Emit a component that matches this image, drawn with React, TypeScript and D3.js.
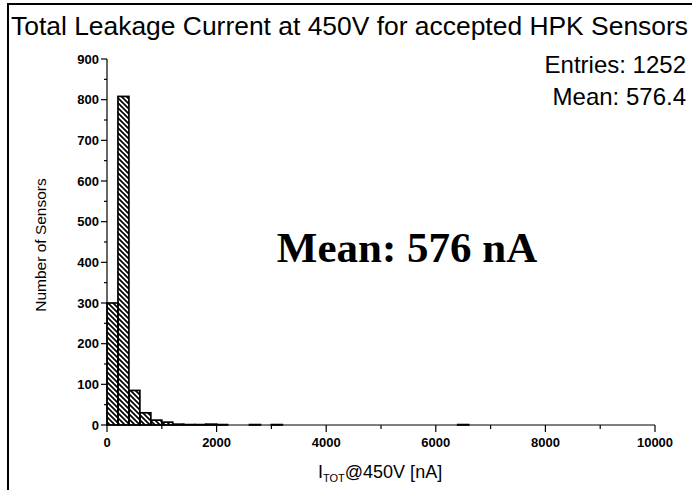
import React from 'react';
import * as d3 from 'd3';

// histogram bins (lower edge, nA) and counts
const binLo = [0, 200, 400, 600, 800, 1000, 1200, 1400, 1600, 1800, 2000, 2600, 3000, 6400];
const counts = [300, 808, 85, 30, 12, 7, 2, 1, 1, 2, 1, 1, 1, 1];
const binWidth = 200;

const xTicks = [0, 2000, 4000, 6000, 8000, 10000];
const xMinor = [1000, 3000, 5000, 7000, 9000];
const yTicks = [0, 100, 200, 300, 400, 500, 600, 700, 800, 900];
const yMinor = [50, 150, 250, 350, 450, 550, 650, 750, 850];

const title = 'Total Leakage Current at 450V for accepted HPK Sensors';
const entries = 'Entries: 1252';
const meanStat = 'Mean: 576.4';
const meanNote = 'Mean: 576 nA';

export default function App() {
  const x = d3.scaleLinear().domain([0, 10000]).range([107, 655]);
  const y = d3.scaleLinear().domain([0, 900]).range([425, 59]);
  const sans = 'Liberation Sans, Arial, sans-serif';
  const tickFont = { fontFamily: sans, fontWeight: 700, fontSize: 13 };

  return (
    <svg width={692} height={490} style={{ position: 'absolute', left: 0, top: 0, background: '#fff' }}>
      <defs>
        <pattern id="hatch" patternUnits="userSpaceOnUse" width={5} height={5}>
          <path d="M-1,-1 L6,6 M-1,4 L1,6 M4,-1 L6,1" stroke="#000" strokeWidth={1.7} />
        </pattern>
      </defs>
      <rect x={8} y={4} width={700} height={500} fill="#fff" stroke="#000" strokeWidth={2} />

      <text x={11} y={35} textLength={677} lengthAdjust="spacingAndGlyphs" fontFamily={sans} fontSize={25}>
        {title}
      </text>
      <text x={686} y={73} textAnchor="end" fontFamily={sans} fontSize={24}>
        {entries}
      </text>
      <text x={686} y={105} textAnchor="end" fontFamily={sans} fontSize={24}>
        {meanStat}
      </text>

      {binLo.map((lo, i) => (
        <rect
          key={i}
          x={x(lo)}
          y={y(counts[i])}
          width={x(lo + binWidth) - x(lo)}
          height={y(0) - y(counts[i])}
          fill="url(#hatch)"
          stroke="#000"
          strokeWidth={1.7}
        />
      ))}

      {/* y axis */}
      <line x1={x(0)} x2={x(0)} y1={y(0)} y2={y(900)} stroke="#000" strokeWidth={1.2} />
      {yTicks.map(t => (
        <g key={t}>
          <line x1={x(0) - 6} x2={x(0)} y1={y(t)} y2={y(t)} stroke="#000" strokeWidth={1.2} />
          <text x={x(0) - 8} y={y(t) + 4.5} textAnchor="end" style={tickFont}>{t}</text>
        </g>
      ))}
      {yMinor.map(t => (
        <line key={t} x1={x(0) - 3} x2={x(0)} y1={y(t)} y2={y(t)} stroke="#000" strokeWidth={1.2} />
      ))}

      {/* x axis */}
      <line x1={x(0)} x2={x(10000)} y1={y(0)} y2={y(0)} stroke="#000" strokeWidth={1.2} />
      {xTicks.map(t => (
        <g key={t}>
          <line x1={x(t)} x2={x(t)} y1={y(0)} y2={y(0) + 7} stroke="#000" strokeWidth={1.2} />
          <text x={x(t)} y={y(0) + 22} textAnchor="middle" style={tickFont}>{t}</text>
        </g>
      ))}
      {xMinor.map(t => (
        <line key={t} x1={x(t)} x2={x(t)} y1={y(0)} y2={y(0) + 4} stroke="#000" strokeWidth={1.2} />
      ))}

      <text transform="translate(46,245) rotate(-90)" textAnchor="middle" fontFamily={sans} fontSize={15.5}>
        Number of Sensors
      </text>

      <text x={318} y={478} fontFamily={sans} fontSize={18}>
        I<tspan fontSize={11} dy={4}>TOT</tspan><tspan dy={-4}>@450V [nA]</tspan>
      </text>

      <text x={407} y={262} textAnchor="middle" fontFamily="Liberation Serif, Times New Roman, serif" fontWeight={700} fontSize={43}>
        {meanNote}
      </text>
    </svg>
  );
}
